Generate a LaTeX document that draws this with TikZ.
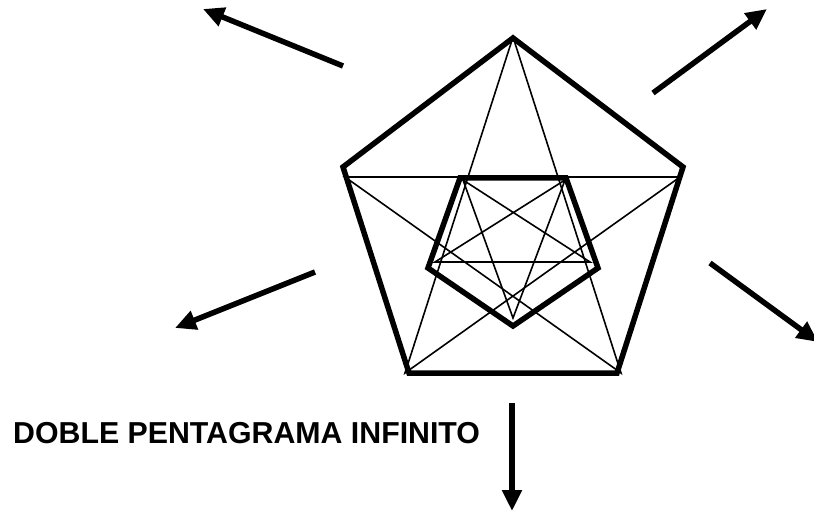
\documentclass[tikz,border=0pt]{standalone}
\usepackage{fontspec}
\setmainfont{Liberation Sans}
\usetikzlibrary{arrows.meta}

\begin{document}
\begin{tikzpicture}[x=1pt, y=-1pt,
  heavy/.style={line width=5.5pt, line join=miter},
  fine/.style={line width=1.6pt},
  outarrow/.style={line width=5.5pt, -{Triangle[length=21pt, width=19pt]}}]
  \useasboundingbox (0,0) rectangle (814,513);
  \clip (0,0) rectangle (814,513);

  % outer pentagon
  \coordinate (oT) at (513,38);
  \coordinate (oR) at (683,167);
  \coordinate (oBR) at (617,373);
  \coordinate (oBL) at (409,373);
  \coordinate (oL) at (343,167);
  % outer star
  \coordinate (sT) at (513,37);
  \coordinate (sR) at (680,177);
  \coordinate (sBR) at (621,373);
  \coordinate (sBL) at (405,373);
  \coordinate (sL) at (345,177);
  % inner pentagon
  \coordinate (iTL) at (460,178);
  \coordinate (iTR) at (566,178);
  \coordinate (iR) at (598,268);
  \coordinate (iB) at (513,326);
  \coordinate (iL) at (428,268);
  % inner star
  \coordinate (jTL) at (463,180);
  \coordinate (jTR) at (565,180);
  \coordinate (jR) at (590,262);
  \coordinate (jB) at (513,318);
  \coordinate (jL) at (435,262);

  \draw[fine] (sT) -- (sBL) -- (sR) -- (sL) -- (sBR) -- cycle;
  \draw[fine] (jTL) -- (jB) -- (jTR) -- (jL) -- (jR) -- cycle;
  \draw[heavy] (oT) -- (oR) -- (oBR) -- (oBL) -- (oL) -- cycle;
  \draw[heavy] (iTL) -- (iTR) -- (iR) -- (iB) -- (iL) -- cycle;

  % arrows
  \coordinate (a1s) at (343,66);   \coordinate (a1e) at (203,9);
  \coordinate (a2s) at (653,93);   \coordinate (a2e) at (767,9);
  \coordinate (a3s) at (710,263);  \coordinate (a3e) at (818,342);
  \coordinate (a4s) at (315,272);  \coordinate (a4e) at (175,328);
  \coordinate (a5s) at (512,403);  \coordinate (a5e) at (512,511);
  \draw[outarrow] (a1s) -- (a1e);
  \draw[outarrow] (a2s) -- (a2e);
  \draw[outarrow] (a3s) -- (a3e);
  \draw[outarrow] (a4s) -- (a4e);
  \draw[outarrow] (a5s) -- (a5e);

  \node[anchor=base west, inner sep=0pt, font=\fontsize{30.3}{36}\selectfont\bfseries]
    (title) at (13,443.3) {DOBLE PENTAGRAMA INFINITO};
\end{tikzpicture}
\end{document}
